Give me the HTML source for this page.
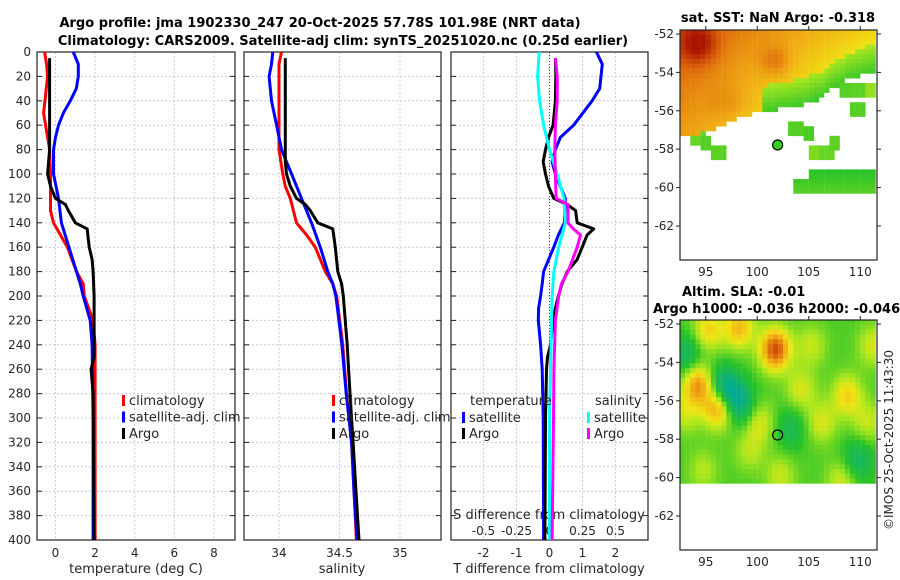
<!DOCTYPE html>
<html><head><meta charset="utf-8"><style>
body{margin:0;background:#fff}
svg{display:block;font-family:"DejaVu Sans","Liberation Sans",sans-serif}
text{fill:#262626}
.t{font-weight:bold;fill:#000;font-size:13px}
</style></head><body>
<svg id="c" width="900" height="580" viewBox="0 0 900 580">
<text class="t" x="320" y="27" text-anchor="middle">Argo profile: jma 1902330_247 20-Oct-2025 57.78S 101.98E (NRT data)</text>
<text class="t" x="343" y="45" text-anchor="middle">Climatology: CARS2009. Satellite-adj clim: synTS_20251020.nc (0.25d earlier)</text>
<text class="t" x="778" y="22" text-anchor="middle">sat. SST: NaN Argo: -0.318</text>
<text class="t" x="682" y="296">Altim. SLA: -0.01</text>
<text class="t" x="653" y="313">Argo h1000: -0.036 h2000: -0.046</text>
<text x="893" y="440" font-size="12" text-anchor="middle" transform="rotate(-90 893 440)">©IMOS 25-Oct-2025 11:43:30</text>
</svg>
<script>
// ---- data ----
const depthTicks=[0,20,40,60,80,100,120,140,160,180,200,220,240,260,280,300,320,340,360,380,400];
const tTicks=[0,2,4,6,8];
const sTicks=[34,34.5,35];
const sTickLabels=["34","34.5","35"];
const dTTicks=[-2,-1,0,1,2];
const dSTicks=[-0.5,-0.25,0,0.25,0.5];
const dSTickLabels=["-0.5","-0.25","0","0.25","0.5"];

const tClimD=[0,10,20,50,80,100,130,140,150,160,180,190,200,220,240,300,400];
const tClimV=[-0.55,-0.45,-0.4,-0.6,-0.3,-0.25,-0.25,-0.1,0.25,0.6,1.06,1.4,1.45,1.9,2.0,2.0,2.0];
const tSatD=[0,10,20,30,40,50,60,70,80,100,120,140,190,200,220,240,300,400];
const tSatV=[0.9,1.15,1.15,1.05,0.75,0.4,0.15,0,-0.1,-0.1,0.15,0.3,1.25,1.4,1.75,1.85,1.9,1.9];
const tArgoD=[5,80,100,110,120,125,130,140,145,160,170,180,200,250,260,280,400];
const tArgoV=[-0.3,-0.3,-0.4,-0.25,0,0.5,0.65,1.0,1.6,1.7,1.85,1.9,1.95,1.95,1.8,1.9,1.95];

const sClimD=[0,10,80,100,110,120,140,150,160,180,190,200,240,280,320,360,400];
const sClimV=[34.021,34.0,34.0,34.031,34.052,34.093,34.145,34.228,34.3,34.383,34.445,34.476,34.527,34.558,34.6,34.62,34.64];
const sSatD=[0,10,20,40,60,80,90,100,120,140,160,180,190,200,240,280,320,360,400];
const sSatV=[33.949,33.938,33.918,33.938,33.98,34.021,34.062,34.104,34.186,34.269,34.341,34.403,34.445,34.47,34.52,34.555,34.6,34.62,34.645];
const sArgoD=[5,90,100,110,120,125,130,140,145,160,180,190,200,240,280,320,360,400];
const sArgoV=[34.052,34.052,34.062,34.093,34.145,34.217,34.259,34.321,34.445,34.465,34.486,34.517,34.531,34.564,34.587,34.612,34.636,34.661];

const dTSatD=[0,10,30,40,60,70,80,90,100,120,140,150,160,180,190,200,210,220,240,260,300,400];
const dTSatV=[1.42,1.6,1.52,1.29,0.73,0.33,0.18,0.08,0.18,0.48,0.45,0.27,0.13,-0.18,-0.22,-0.27,-0.33,-0.34,-0.27,-0.22,-0.19,-0.18];
const dTArgoD=[5,20,40,60,70,80,90,100,110,120,125,130,140,145,150,160,170,180,190,200,210,220,240,250,260,300,400];
const dTArgoV=[0.18,0.19,0.18,0.11,-0.03,-0.12,-0.19,-0.12,-0.03,0.13,0.54,0.79,0.84,1.34,1.14,0.99,0.84,0.54,0.38,0.27,0.18,0.11,0.03,-0.06,-0.09,-0.12,-0.14];
const dSSatD=[0,20,40,60,80,100,120,140,160,180,200,300,400];
const dSSatV=[-0.078,-0.09,-0.075,-0.045,0,0.058,0.11,0.12,0.07,0.033,0.02,0,0];
const dSArgoD=[5,20,40,60,80,100,120,125,140,145,150,160,180,190,200,220,260,300,400];
const dSArgoV=[0.045,0.058,0.058,0.045,0.04,0.045,0.05,0.14,0.14,0.18,0.235,0.21,0.14,0.09,0.07,0.045,0.033,0.03,0.02];

const lonTicks=[95,100,105,110];
const latTicks=[-52,-54,-56,-58,-60,-62];
const argoLon=101.98, argoLat=-57.78;
const slaBlobLon=[101.5,94,96,98,95,108.5,106,100,104,108,96.5,98,93,103,109.5,111,92.8,99,105,110.5,102,94.5];
const slaBlobLat=[-53.2,-55,-56.2,-52.1,-52.2,-55.6,-57,-57,-55.3,-60,-55.2,-56,-53.5,-57.3,-59,-53,-56.5,-58.5,-53,-57,-59.8,-59.5];
const slaBlobAmp=[1.0,0.75,0.8,0.6,0.5,0.5,0.35,0.35,0.35,0.35,-0.7,-0.6,-0.4,-0.3,-0.4,0.35,0.3,0.25,0.3,0.3,0.3,0.25];
const sstBoundLon=[92.5,95,96.5,98,100,102,104,106,107,108.5,110,111.5];
const sstBoundLat=[-57.2,-57.0,-56.6,-56.2,-56.0,-55.8,-55.6,-55.2,-54.8,-54.3,-54.0,-53.8];
const sstPatchLon=[94,94.7,96,103.5,103.8,104.7,105.5,106.5,107.3,108.5,109.5,109.5,110.8];
const sstPatchLat=[-57.3,-57.5,-58,-56.7,-56.9,-57.1,-58,-58,-57.5,-54.8,-54.7,-55.8,-54.8];
const sstPatchVal=[0.15,0.1,0.12,0.1,0.1,0.08,0.2,0.15,0.12,0.1,0.12,0.1,0.25];

// ---- drawing ----
const svg=document.getElementById('c');
const NS='http://www.w3.org/2000/svg';
function el(tag,at,parent){const e=document.createElementNS(NS,tag);for(const k in at)e.setAttribute(k,at[k]);(parent||svg).appendChild(e);return e;}
const y0=52,yS=1.22;
const yD=d=>y0+d*yS;
const xT=v=>55.5+v*19.8;
const xS=v=>279+(v-34)*121;
const xDT=v=>549.5+v*33;
const xDS=v=>549.5+v*132;
const panels=[{x:37,w:198},{x:244,w:197},{x:451,w:197}];

function grid(p,xs,name){
  const g=el('g',{});
  
  
  depthTicks.forEach(d=>{el('line',{x1:p.x,x2:p.x+p.w,y1:yD(d),y2:yD(d),stroke:'#c8cbe8','stroke-width':1,'stroke-dasharray':'2,2'},g);
    el('line',{x1:p.x,x2:p.x+5,y1:yD(d),y2:yD(d),stroke:'#222'},g);el('line',{x1:p.x+p.w-5,x2:p.x+p.w,y1:yD(d),y2:yD(d),stroke:'#222'},g);});
  xs.forEach(x=>{el('line',{x1:x,x2:x,y1:y0,y2:yD(400),stroke:'#c8cbe8','stroke-width':1,'stroke-dasharray':'2,2'},g);});
  const r=el('rect',{x:p.x,y:y0,width:p.w,height:yD(400)-y0,fill:'none',stroke:'#222','stroke-width':1.2});
  
  
}
grid(panels[0],tTicks.map(xT),'temperature-panel');
grid(panels[1],sTicks.map(xS),'salinity-panel');
grid(panels[2],dTTicks.map(xDT),'difference-panel');
el('line',{x1:xDT(0),x2:xDT(0),y1:y0,y2:yD(400),stroke:'#444','stroke-dasharray':'1,2'});

depthTicks.forEach(d=>{const t=el('text',{x:31,y:yD(d)+4,'font-size':12,'text-anchor':'end'});t.textContent=d;
  
  });
function xlabels(vals,labels,fx,y,name){vals.forEach((v,i)=>{const t=el('text',{x:fx(v),y:y,'font-size':12,'text-anchor':'middle'});t.textContent=labels[i];
  
  });}
xlabels(tTicks,tTicks.map(String),xT,557,'temperature-tick-label');
xlabels(sTicks,sTickLabels,xS,557,'salinity-tick-label');
xlabels(dTTicks,dTTicks.map(String),xDT,557,'t-difference-tick-label');
xlabels(dSTicks,dSTickLabels,xDS,535,'s-difference-tick-label');
function label(x,y,s,name,anchor){const t=el('text',{x:x,y:y,'font-size':13,'text-anchor':anchor||'middle'});t.textContent=s;
  
  return t;}
label(136,573,'temperature (deg C)','temperature-axis-title');
label(342,573,'salinity','salinity-axis-title');
label(549,573,'T difference from climatology','t-difference-axis-title');
label(549,519,'S difference from climatology','s-difference-axis-title');

function line(ds,vs,fx,color,name,w){const pts=ds.map((d,i)=>fx(vs[i]).toFixed(1)+','+yD(d).toFixed(1)).join(' ');
  const p=el('polyline',{points:pts,fill:'none',stroke:color,'stroke-width':w||3,'stroke-linejoin':'round'});
  
  }
line(tClimD,tClimV,xT,'#ff0000','temperature-climatology-line');
line(tSatD,tSatV,xT,'#0000ff','temperature-satellite-line');
line(tArgoD,tArgoV,xT,'#000','temperature-argo-line');
line(sClimD,sClimV,xS,'#ff0000','salinity-climatology-line');
line(sSatD,sSatV,xS,'#0000ff','salinity-satellite-line');
line(sArgoD,sArgoV,xS,'#000','salinity-argo-line');
line(dTSatD,dTSatV,xDT,'#0000ff','t-diff-satellite-line');
line(dTArgoD,dTArgoV,xDT,'#000','t-diff-argo-line');
line(dSSatD,dSSatV,xDS,'#00ffff','s-diff-satellite-line');
line(dSArgoD,dSArgoV,xDS,'#ff00ff','s-diff-argo-line');

function legend(x,y,color,s,name){el('rect',{x:x,y:y-10,width:3,height:11,fill:color});label(x+7,y,s,name,'start');}
[[122,'#ff0000','climatology'],[122,'#0000ff','satellite-adj. clim'],[122,'#000','Argo']].forEach((a,i)=>legend(a[0],405+i*16.5,a[1],a[2],'temperature-legend-entry'));
[[332,'#ff0000','climatology'],[332,'#0000ff','satellite-adj. clim'],[332,'#000','Argo']].forEach((a,i)=>legend(a[0],405+i*16.5,a[1],a[2],'salinity-legend-entry'));
label(470,405,'temperature','diff-legend-temperature-header','start');
legend(462,422,'#0000ff','satellite','diff-legend-entry');
legend(462,438,'#000','Argo','diff-legend-entry');
label(595,405,'salinity','diff-legend-salinity-header','start');
legend(587,422,'#00ffff','satellite','diff-legend-entry');
legend(587,438,'#ff00ff','Argo','diff-legend-entry');

// ---- maps ----
const lonX=l=>680+(l-92.5)*10.3;
function mapFrame(top,name){
  const latY=l=>top+4+(-52-l)*19.2;
  const g=el('g',{});
  
  
  return {g:g,latY:latY,top:top};
}
function frameAxes(m,name){
  el('rect',{x:680,y:m.top,width:197,height:230,fill:'none',stroke:'#222','stroke-width':1.2});
  latTicks.forEach(l=>{el('line',{x1:680,x2:676,y1:m.latY(l),y2:m.latY(l),stroke:'#222'});el('line',{x1:877,x2:881,y1:m.latY(l),y2:m.latY(l),stroke:'#222'});
    const t=el('text',{x:674,y:m.latY(l)+4,'font-size':12,'text-anchor':'end'});t.textContent=l;
    
    });
  lonTicks.forEach(l=>{el('line',{x1:lonX(l),x2:lonX(l),y1:m.top,y2:m.top-4,stroke:'#222'});
    const t=el('text',{x:lonX(l),y:m.top+246,'font-size':12,'text-anchor':'middle'});t.textContent=l;
    
    });
}
function interp(xs,ys,x){if(x<=xs[0])return ys[0];for(let i=1;i<xs.length;i++)if(x<=xs[i]){const f=(x-xs[i-1])/(xs[i]-xs[i-1]);return ys[i-1]+f*(ys[i]-ys[i-1]);}return ys[ys.length-1];}
function cmap(v){const stops=[[-0.6,[0,170,150]],[-0.3,[20,180,100]],[0,[40,195,40]],[0.3,[170,230,30]],[0.5,[240,230,20]],[0.75,[240,170,20]],[1.0,[220,100,10]],[1.3,[170,20,0]]];
  if(v<=stops[0][0])return 'rgb('+stops[0][1]+')';
  for(let i=1;i<stops.length;i++)if(v<=stops[i][0]){const f=(v-stops[i-1][0])/(stops[i][0]-stops[i-1][0]);const a=stops[i-1][1],b=stops[i][1];return 'rgb('+a.map((c,k)=>Math.round(c+f*(b[k]-c))).join(',')+')';}
  return 'rgb('+stops[stops.length-1][1]+')';}

// SST
const m1=mapFrame(30,'sst-map');
for(let lon=92.5;lon<111.3;lon+=0.5){for(let lat=-51.8;lat>-60.2;lat-=0.25){
  const b=interp(sstBoundLon,sstBoundLat,lon);let v=null;
  if(lat>b){const t=(lat-b)/(-51.8-b);v=0.6+0.25*t-0.025*(lon-100);
    v+=0.4*Math.exp(-((lon-94)**2/3+(lat+52.4)**2/1.0))+0.2*Math.exp(-((lon-101.5)**2/2+(lat+53.3)**2/0.6))+0.1*Math.exp(-((lon-97)**2/4+(lat+55.5)**2/1.0));
    if(lon>100&&lat<b+1.4)v=Math.min(v,0.05+0.25*((lat-b)/1.4));}
  else{for(let i=0;i<sstPatchLon.length;i++)if(Math.abs(lon-sstPatchLon[i])<0.6&&Math.abs(lat-sstPatchLat[i])<0.35)v=sstPatchVal[i];
    if(lat<-58.9&&lat>-60.1&&lon>103&&lon<111.3&&(lon>104.5||lat<-59.3))v=0.05-0.1*(lat+59.5);}
  if(v!==null){el('rect',{x:lonX(lon).toFixed(1),y:m1.latY(lat).toFixed(1),width:5.3,height:5.1,fill:cmap(v)},m1.g);}
}}
frameAxes(m1,'sst-map');
el('circle',{cx:lonX(argoLon),cy:m1.latY(argoLat),r:5,fill:'#30d020',stroke:'#000','stroke-width':1.2});

// SLA
const m2=mapFrame(320,'sla-map');
for(let lon=92.5;lon<111.3;lon+=0.5){for(let lat=-51.8;lat>-60.1;lat-=0.25){
  let v=0.08;
  for(let i=0;i<slaBlobLon.length;i++)v+=slaBlobAmp[i]*Math.exp(-((lon-slaBlobLon[i])**2/2.2+(lat-slaBlobLat[i])**2/1.2));
  el('rect',{x:lonX(lon).toFixed(1),y:m2.latY(lat).toFixed(1),width:5.3,height:5.1,fill:cmap(v)},m2.g);
}}
frameAxes(m2,'sla-map');
el('circle',{cx:lonX(argoLon),cy:m2.latY(argoLat),r:5,fill:'none',stroke:'#000','stroke-width':1.2});
</script>
</body></html>
